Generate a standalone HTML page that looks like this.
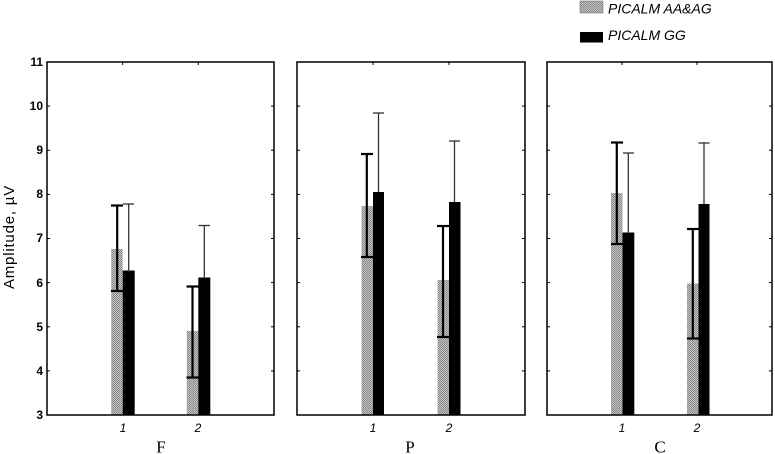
<!DOCTYPE html>
<html><head><meta charset="utf-8"><style>
html,body{margin:0;padding:0;background:#fff;}
svg{display:block;}
</style></head><body>
<svg width="775" height="454" viewBox="0 0 775 454" xmlns="http://www.w3.org/2000/svg">
<defs>
<pattern id="chk" width="2" height="2" patternUnits="userSpaceOnUse">
<rect width="2" height="2" fill="#c4c4c4"/>
<rect width="1" height="1" fill="#888"/>
<rect x="1" y="1" width="1" height="1" fill="#888"/>
</pattern>
</defs>
<rect width="775" height="454" fill="#fff"/>

<!-- Legend -->
<rect x="580" y="1" width="23" height="12" fill="url(#chk)" stroke="#777" stroke-width="0.6"/>
<text x="608" y="13.5" font-family="Liberation Sans, sans-serif" font-style="italic" font-size="14" fill="#000">PICALM AA&amp;AG</text>
<rect x="580" y="32" width="23" height="10.5" fill="#000"/>
<text x="608" y="40" font-family="Liberation Sans, sans-serif" font-style="italic" font-size="14" fill="#000">PICALM GG</text>

<!-- Y label -->
<text transform="translate(14,237) rotate(-90)" text-anchor="middle" font-family="Liberation Sans, sans-serif" font-size="15" letter-spacing="0.8" fill="#000">Amplitude, µV</text>

<!-- Y tick labels -->
<g font-family="Liberation Sans, sans-serif" font-weight="bold" font-size="12" text-anchor="end" fill="#000">
<text x="43" y="66">11</text>
<text x="43" y="110">10</text>
<text x="43" y="154">9</text>
<text x="43" y="198">8</text>
<text x="43" y="242">7</text>
<text x="43" y="287">6</text>
<text x="43" y="331">5</text>
<text x="43" y="375">4</text>
<text x="43" y="419">3</text>
</g>

<!-- Panel 1 -->
<g>
<rect x="111.2" y="249" width="11.5" height="166" fill="url(#chk)"/>
<rect x="122.7" y="270.5" width="12" height="144.5" fill="#000"/>
<rect x="186.8" y="331" width="11.5" height="84" fill="url(#chk)"/>
<rect x="198.3" y="277.5" width="12" height="137.5" fill="#000"/>
<g stroke="#000" stroke-width="2.2" fill="none">
<line x1="117.2" y1="205.5" x2="117.2" y2="291"/>
<line x1="111" y1="205.5" x2="123" y2="205.5"/>
<line x1="111" y1="291" x2="123" y2="291"/>
<line x1="192.5" y1="286.5" x2="192.5" y2="377.5"/>
<line x1="186.5" y1="286.5" x2="198.5" y2="286.5"/>
<line x1="186.5" y1="377.5" x2="198.5" y2="377.5"/>
</g>
<g stroke="#333" stroke-width="1.3" fill="none">
<line x1="128.7" y1="204" x2="128.7" y2="272"/>
<line x1="123" y1="204" x2="134" y2="204"/>
<line x1="204.3" y1="225.5" x2="204.3" y2="278"/>
<line x1="198.5" y1="225.5" x2="210" y2="225.5"/>
</g>
<rect x="47" y="62" width="227" height="353" fill="none" stroke="#000" stroke-width="1.5"/>
<g stroke="#000" stroke-width="1">
<line x1="122.7" y1="62" x2="122.7" y2="65"/><line x1="198.3" y1="62" x2="198.3" y2="65"/>
<line x1="47" y1="106.1" x2="50" y2="106.1"/><line x1="47" y1="150.2" x2="50" y2="150.2"/><line x1="47" y1="194.4" x2="50" y2="194.4"/><line x1="47" y1="238.5" x2="50" y2="238.5"/><line x1="47" y1="282.6" x2="50" y2="282.6"/><line x1="47" y1="326.8" x2="50" y2="326.8"/><line x1="47" y1="370.9" x2="50" y2="370.9"/>
<line x1="271" y1="106.1" x2="274" y2="106.1"/><line x1="271" y1="150.2" x2="274" y2="150.2"/><line x1="271" y1="194.4" x2="274" y2="194.4"/><line x1="271" y1="238.5" x2="274" y2="238.5"/><line x1="271" y1="282.6" x2="274" y2="282.6"/><line x1="271" y1="326.8" x2="274" y2="326.8"/><line x1="271" y1="370.9" x2="274" y2="370.9"/>
</g>
</g>

<!-- Panel 2 -->
<g>
<rect x="361.5" y="206" width="11.5" height="209" fill="url(#chk)"/>
<rect x="373" y="192" width="11" height="223" fill="#000"/>
<rect x="437.5" y="280" width="11.5" height="135" fill="url(#chk)"/>
<rect x="449" y="202" width="11.5" height="213" fill="#000"/>
<g stroke="#000" stroke-width="2.2" fill="none">
<line x1="366.8" y1="154" x2="366.8" y2="257"/>
<line x1="361" y1="154" x2="373" y2="154"/>
<line x1="361" y1="257" x2="373" y2="257"/>
<line x1="443" y1="226" x2="443" y2="337"/>
<line x1="437" y1="226" x2="449" y2="226"/>
<line x1="437" y1="337" x2="449" y2="337"/>
</g>
<g stroke="#333" stroke-width="1.3" fill="none">
<line x1="378.5" y1="113" x2="378.5" y2="192"/>
<line x1="373" y1="113" x2="384" y2="113"/>
<line x1="454.5" y1="141" x2="454.5" y2="202"/>
<line x1="449" y1="141" x2="460" y2="141"/>
</g>
<rect x="297" y="62" width="228" height="353" fill="none" stroke="#000" stroke-width="1.5"/>
<g stroke="#000" stroke-width="1">
<line x1="373" y1="62" x2="373" y2="65"/><line x1="449" y1="62" x2="449" y2="65"/>
<line x1="297" y1="106.1" x2="300" y2="106.1"/><line x1="297" y1="150.2" x2="300" y2="150.2"/><line x1="297" y1="194.4" x2="300" y2="194.4"/><line x1="297" y1="238.5" x2="300" y2="238.5"/><line x1="297" y1="282.6" x2="300" y2="282.6"/><line x1="297" y1="326.8" x2="300" y2="326.8"/><line x1="297" y1="370.9" x2="300" y2="370.9"/>
<line x1="522" y1="106.1" x2="525" y2="106.1"/><line x1="522" y1="150.2" x2="525" y2="150.2"/><line x1="522" y1="194.4" x2="525" y2="194.4"/><line x1="522" y1="238.5" x2="525" y2="238.5"/><line x1="522" y1="282.6" x2="525" y2="282.6"/><line x1="522" y1="326.8" x2="525" y2="326.8"/><line x1="522" y1="370.9" x2="525" y2="370.9"/>
</g>
</g>

<!-- Panel 3 -->
<g>
<rect x="611" y="193" width="11.5" height="222" fill="url(#chk)"/>
<rect x="622.5" y="232.5" width="11.8" height="182.5" fill="#000"/>
<rect x="687" y="283.5" width="11.5" height="131.5" fill="url(#chk)"/>
<rect x="698.5" y="204" width="11" height="211" fill="#000"/>
<g stroke="#000" stroke-width="2.2" fill="none">
<line x1="616.8" y1="142.5" x2="616.8" y2="244"/>
<line x1="611" y1="142.5" x2="623" y2="142.5"/>
<line x1="611" y1="244" x2="623" y2="244"/>
<line x1="692.8" y1="229" x2="692.8" y2="338.5"/>
<line x1="687" y1="229" x2="699" y2="229"/>
<line x1="687" y1="338.5" x2="699" y2="338.5"/>
</g>
<g stroke="#333" stroke-width="1.3" fill="none">
<line x1="628.3" y1="153" x2="628.3" y2="233"/>
<line x1="623" y1="153" x2="634" y2="153"/>
<line x1="704" y1="143" x2="704" y2="204"/>
<line x1="698.5" y1="143" x2="709.5" y2="143"/>
</g>
<rect x="547" y="62" width="225" height="353" fill="none" stroke="#000" stroke-width="1.5"/>
<g stroke="#000" stroke-width="1">
<line x1="622" y1="62" x2="622" y2="65"/><line x1="697" y1="62" x2="697" y2="65"/>
<line x1="547" y1="106.1" x2="550" y2="106.1"/><line x1="547" y1="150.2" x2="550" y2="150.2"/><line x1="547" y1="194.4" x2="550" y2="194.4"/><line x1="547" y1="238.5" x2="550" y2="238.5"/><line x1="547" y1="282.6" x2="550" y2="282.6"/><line x1="547" y1="326.8" x2="550" y2="326.8"/><line x1="547" y1="370.9" x2="550" y2="370.9"/>
<line x1="769" y1="106.1" x2="772" y2="106.1"/><line x1="769" y1="150.2" x2="772" y2="150.2"/><line x1="769" y1="194.4" x2="772" y2="194.4"/><line x1="769" y1="238.5" x2="772" y2="238.5"/><line x1="769" y1="282.6" x2="772" y2="282.6"/><line x1="769" y1="326.8" x2="772" y2="326.8"/><line x1="769" y1="370.9" x2="772" y2="370.9"/>
</g>
</g>

<!-- X tick labels -->
<g font-family="Liberation Sans, sans-serif" font-style="italic" font-size="12" text-anchor="middle" fill="#000">
<text x="123" y="432">1</text>
<text x="198" y="432">2</text>
<text x="373" y="432">1</text>
<text x="449" y="432">2</text>
<text x="622" y="432">1</text>
<text x="697" y="432">2</text>
</g>
<g font-family="Liberation Serif, serif" font-size="17" text-anchor="middle" fill="#000">
<text x="161" y="452.5">F</text>
<text x="410" y="452.5">P</text>
<text x="660" y="452.5">C</text>
</g>
</svg>
</body></html>
